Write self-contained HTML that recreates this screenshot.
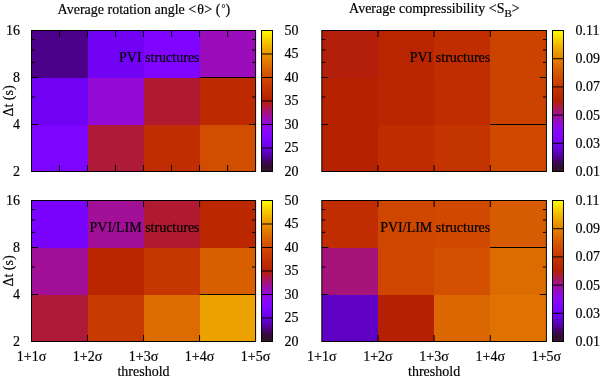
<!DOCTYPE html><html><head><meta charset="utf-8"><style>html,body{margin:0;padding:0;background:#fff;width:600px;height:379px;overflow:hidden}#w{width:600px;height:379px;will-change:transform}svg{display:block}text{font-family:"Liberation Serif",serif;font-size:14px;fill:#000;stroke:#000;stroke-width:0.18px}</style></head><body>
<div id="w"><svg width="600" height="379" viewBox="0 0 600 379">
<defs><linearGradient id="pg" x1="0" y1="0" x2="0" y2="1"><stop offset="0.000" stop-color="#ffff00"/><stop offset="0.025" stop-color="#fcec00"/><stop offset="0.050" stop-color="#f9db00"/><stop offset="0.075" stop-color="#f5ca00"/><stop offset="0.100" stop-color="#f2ba00"/><stop offset="0.125" stop-color="#efab00"/><stop offset="0.150" stop-color="#eb9d00"/><stop offset="0.175" stop-color="#e88f00"/><stop offset="0.200" stop-color="#e48300"/><stop offset="0.225" stop-color="#e07700"/><stop offset="0.250" stop-color="#dd6c00"/><stop offset="0.275" stop-color="#d96100"/><stop offset="0.300" stop-color="#d55700"/><stop offset="0.325" stop-color="#d24e00"/><stop offset="0.350" stop-color="#ce4600"/><stop offset="0.375" stop-color="#ca3e00"/><stop offset="0.400" stop-color="#c63700"/><stop offset="0.425" stop-color="#c13000"/><stop offset="0.450" stop-color="#bd2a00"/><stop offset="0.475" stop-color="#b92500"/><stop offset="0.500" stop-color="#b42000"/><stop offset="0.525" stop-color="#b01b28"/><stop offset="0.550" stop-color="#ab174f"/><stop offset="0.575" stop-color="#a61474"/><stop offset="0.600" stop-color="#a11096"/><stop offset="0.625" stop-color="#9c0db4"/><stop offset="0.650" stop-color="#970bce"/><stop offset="0.675" stop-color="#9109e3"/><stop offset="0.700" stop-color="#8c07f3"/><stop offset="0.725" stop-color="#8605fc"/><stop offset="0.750" stop-color="#8004ff"/><stop offset="0.775" stop-color="#7903fc"/><stop offset="0.800" stop-color="#7202f3"/><stop offset="0.825" stop-color="#6b01e3"/><stop offset="0.850" stop-color="#6301ce"/><stop offset="0.875" stop-color="#5a00b4"/><stop offset="0.900" stop-color="#510096"/><stop offset="0.925" stop-color="#420563"/><stop offset="0.950" stop-color="#360a40"/><stop offset="0.975" stop-color="#310f2e"/><stop offset="1.000" stop-color="#341430"/></linearGradient></defs>
<g><rect x="31.50" y="30.50" width="56.02" height="47.00" fill="#4c0089" shape-rendering="crispEdges"/><rect x="87.53" y="30.50" width="56.02" height="47.00" fill="#7202f3" shape-rendering="crispEdges"/><rect x="143.55" y="30.50" width="56.02" height="47.00" fill="#8004ff" shape-rendering="crispEdges"/><rect x="199.57" y="30.50" width="56.02" height="47.00" fill="#9b0dba" shape-rendering="crispEdges"/><rect x="31.50" y="77.50" width="56.02" height="47.00" fill="#7202f3" shape-rendering="crispEdges"/><rect x="87.53" y="77.50" width="56.02" height="47.00" fill="#950ad7" shape-rendering="crispEdges"/><rect x="143.55" y="77.50" width="56.02" height="47.00" fill="#af1a30" shape-rendering="crispEdges"/><rect x="199.57" y="77.50" width="56.02" height="47.00" fill="#bd2a00" shape-rendering="crispEdges"/><rect x="31.50" y="124.50" width="56.02" height="47.00" fill="#7d04fe" shape-rendering="crispEdges"/><rect x="87.53" y="124.50" width="56.02" height="47.00" fill="#ae1a38" shape-rendering="crispEdges"/><rect x="143.55" y="124.50" width="56.02" height="47.00" fill="#bf2d00" shape-rendering="crispEdges"/><rect x="199.57" y="124.50" width="56.02" height="47.00" fill="#d14d00" shape-rendering="crispEdges"/><line x1="199.57" y1="77.50" x2="255.60" y2="77.50" stroke="#000" stroke-width="1"/><path d="M59.51 30.50v6.5M59.51 171.50v-6.5M87.53 30.50v6.5M87.53 171.50v-6.5M115.54 30.50v6.5M115.54 171.50v-6.5M143.55 30.50v6.5M143.55 171.50v-6.5M171.56 30.50v6.5M171.56 171.50v-6.5M199.57 30.50v6.5M199.57 171.50v-6.5M227.59 30.50v6.5M227.59 171.50v-6.5M31.50 77.50h6.5M255.60 77.50h-6.5M31.50 124.50h6.5M255.60 124.50h-6.5M31.50 39.55h3.5M255.60 39.55h-3.5M31.50 50.01h3.5M255.60 50.01h-3.5M31.50 62.37h3.5M255.60 62.37h-3.5M31.50 97.01h3.5M255.60 97.01h-3.5" stroke="#000" stroke-width="1" fill="none"/><rect x="31.50" y="30.50" width="224.10" height="141.00" fill="none" stroke="#000" stroke-width="1"/><rect x="261.50" y="30.50" width="11.00" height="141.00" fill="url(#pg)"/><text x="284.60" y="34.90">50</text><text x="284.60" y="58.40">45</text><text x="284.60" y="81.90">40</text><text x="284.60" y="105.40">35</text><text x="284.60" y="128.90">30</text><text x="284.60" y="152.40">25</text><text x="284.60" y="175.90">20</text><path d="M261.50 54.00H272.50M261.50 77.50H272.50M261.50 101.00H272.50M261.50 124.50H272.50M261.50 148.00H272.50" stroke="#000" stroke-width="1" fill="none"/><rect x="261.50" y="30.50" width="11.00" height="141.00" fill="none" stroke="#000" stroke-width="1"/><text x="20" y="34.80" text-anchor="end">16</text><text x="20" y="81.80" text-anchor="end">8</text><text x="20" y="128.80" text-anchor="end">4</text><text x="20" y="175.80" text-anchor="end">2</text><text transform="translate(12.9 101.00) rotate(-90)" text-anchor="middle">&#916;t (s)</text><text x="199.57" y="61.70" text-anchor="end">PVI structures</text></g>
<g><rect x="321.80" y="30.50" width="56.15" height="47.00" fill="#b31f0b" shape-rendering="crispEdges"/><rect x="377.95" y="30.50" width="56.15" height="47.00" fill="#b92500" shape-rendering="crispEdges"/><rect x="434.10" y="30.50" width="56.15" height="47.00" fill="#bf2d00" shape-rendering="crispEdges"/><rect x="490.25" y="30.50" width="56.15" height="47.00" fill="#cc4300" shape-rendering="crispEdges"/><rect x="321.80" y="77.50" width="56.15" height="47.00" fill="#b62200" shape-rendering="crispEdges"/><rect x="377.95" y="77.50" width="56.15" height="47.00" fill="#ba2600" shape-rendering="crispEdges"/><rect x="434.10" y="77.50" width="56.15" height="47.00" fill="#bf2d00" shape-rendering="crispEdges"/><rect x="490.25" y="77.50" width="56.15" height="47.00" fill="#cc4300" shape-rendering="crispEdges"/><rect x="321.80" y="124.50" width="56.15" height="47.00" fill="#b62200" shape-rendering="crispEdges"/><rect x="377.95" y="124.50" width="56.15" height="47.00" fill="#be2c00" shape-rendering="crispEdges"/><rect x="434.10" y="124.50" width="56.15" height="47.00" fill="#c43400" shape-rendering="crispEdges"/><rect x="490.25" y="124.50" width="56.15" height="47.00" fill="#cf4900" shape-rendering="crispEdges"/><line x1="490.25" y1="124.50" x2="546.40" y2="124.50" stroke="#000" stroke-width="1"/><path d="M377.95 30.50v6.5M377.95 171.50v-6.5M434.10 30.50v6.5M434.10 171.50v-6.5M490.25 30.50v6.5M490.25 171.50v-6.5M321.80 77.50h6.5M546.40 77.50h-6.5M321.80 124.50h6.5M546.40 124.50h-6.5M321.80 39.55h3.5M546.40 39.55h-3.5M321.80 50.01h3.5M546.40 50.01h-3.5M321.80 62.37h3.5M546.40 62.37h-3.5M321.80 97.01h3.5M546.40 97.01h-3.5" stroke="#000" stroke-width="1" fill="none"/><rect x="321.80" y="30.50" width="224.60" height="141.00" fill="none" stroke="#000" stroke-width="1"/><rect x="552.50" y="30.50" width="11.00" height="141.00" fill="url(#pg)"/><text x="575.60" y="34.90">0.11</text><text x="575.60" y="63.10">0.09</text><text x="575.60" y="91.30">0.07</text><text x="575.60" y="119.50">0.05</text><text x="575.60" y="147.70">0.03</text><text x="575.60" y="175.90">0.01</text><path d="M552.50 58.70H563.50M552.50 86.90H563.50M552.50 115.10H563.50M552.50 143.30H563.50" stroke="#000" stroke-width="1" fill="none"/><rect x="552.50" y="30.50" width="11.00" height="141.00" fill="none" stroke="#000" stroke-width="1"/><text x="490.25" y="61.70" text-anchor="end">PVI structures</text></g>
<g><rect x="31.50" y="200.50" width="56.02" height="47.00" fill="#7a03fd" shape-rendering="crispEdges"/><rect x="87.53" y="200.50" width="56.02" height="47.00" fill="#a11096" shape-rendering="crispEdges"/><rect x="143.55" y="200.50" width="56.02" height="47.00" fill="#af1a30" shape-rendering="crispEdges"/><rect x="199.57" y="200.50" width="56.02" height="47.00" fill="#bb2800" shape-rendering="crispEdges"/><rect x="31.50" y="247.50" width="56.02" height="47.00" fill="#a11096" shape-rendering="crispEdges"/><rect x="87.53" y="247.50" width="56.02" height="47.00" fill="#ba2600" shape-rendering="crispEdges"/><rect x="143.55" y="247.50" width="56.02" height="47.00" fill="#c63700" shape-rendering="crispEdges"/><rect x="199.57" y="247.50" width="56.02" height="47.00" fill="#d85f00" shape-rendering="crispEdges"/><rect x="31.50" y="294.50" width="56.02" height="47.00" fill="#ae1a38" shape-rendering="crispEdges"/><rect x="87.53" y="294.50" width="56.02" height="47.00" fill="#c73a00" shape-rendering="crispEdges"/><rect x="143.55" y="294.50" width="56.02" height="47.00" fill="#dd6c00" shape-rendering="crispEdges"/><rect x="199.57" y="294.50" width="56.02" height="47.00" fill="#eca200" shape-rendering="crispEdges"/><line x1="199.57" y1="294.50" x2="255.60" y2="294.50" stroke="#000" stroke-width="1"/><path d="M87.53 200.50v6.5M87.53 341.50v-6.5M143.55 200.50v6.5M143.55 341.50v-6.5M199.57 200.50v6.5M199.57 341.50v-6.5M31.50 247.50h6.5M255.60 247.50h-6.5M31.50 294.50h6.5M255.60 294.50h-6.5M31.50 209.55h3.5M255.60 209.55h-3.5M31.50 220.01h3.5M255.60 220.01h-3.5M31.50 232.37h3.5M255.60 232.37h-3.5M31.50 267.01h3.5M255.60 267.01h-3.5" stroke="#000" stroke-width="1" fill="none"/><rect x="31.50" y="200.50" width="224.10" height="141.00" fill="none" stroke="#000" stroke-width="1"/><rect x="261.50" y="200.50" width="11.00" height="141.00" fill="url(#pg)"/><text x="284.60" y="204.90">50</text><text x="284.60" y="228.40">45</text><text x="284.60" y="251.90">40</text><text x="284.60" y="275.40">35</text><text x="284.60" y="298.90">30</text><text x="284.60" y="322.40">25</text><text x="284.60" y="345.90">20</text><path d="M261.50 224.00H272.50M261.50 247.50H272.50M261.50 271.00H272.50M261.50 294.50H272.50M261.50 318.00H272.50" stroke="#000" stroke-width="1" fill="none"/><rect x="261.50" y="200.50" width="11.00" height="141.00" fill="none" stroke="#000" stroke-width="1"/><text x="20" y="204.80" text-anchor="end">16</text><text x="20" y="251.80" text-anchor="end">8</text><text x="20" y="298.80" text-anchor="end">4</text><text x="20" y="345.80" text-anchor="end">2</text><text transform="translate(12.9 271.00) rotate(-90)" text-anchor="middle">&#916;t (s)</text><text x="199.57" y="231.70" text-anchor="end">PVI/LIM structures</text></g>
<g><rect x="321.80" y="200.50" width="56.15" height="47.00" fill="#bf2d00" shape-rendering="crispEdges"/><rect x="377.95" y="200.50" width="56.15" height="47.00" fill="#ce4600" shape-rendering="crispEdges"/><rect x="434.10" y="200.50" width="56.15" height="47.00" fill="#cf4900" shape-rendering="crispEdges"/><rect x="490.25" y="200.50" width="56.15" height="47.00" fill="#d75b00" shape-rendering="crispEdges"/><rect x="321.80" y="247.50" width="56.15" height="47.00" fill="#a5137b" shape-rendering="crispEdges"/><rect x="377.95" y="247.50" width="56.15" height="47.00" fill="#ce4600" shape-rendering="crispEdges"/><rect x="434.10" y="247.50" width="56.15" height="47.00" fill="#d25000" shape-rendering="crispEdges"/><rect x="490.25" y="247.50" width="56.15" height="47.00" fill="#dd6c00" shape-rendering="crispEdges"/><rect x="321.80" y="294.50" width="56.15" height="47.00" fill="#5f01c4" shape-rendering="crispEdges"/><rect x="377.95" y="294.50" width="56.15" height="47.00" fill="#b42000" shape-rendering="crispEdges"/><rect x="434.10" y="294.50" width="56.15" height="47.00" fill="#db6700" shape-rendering="crispEdges"/><rect x="490.25" y="294.50" width="56.15" height="47.00" fill="#df7200" shape-rendering="crispEdges"/><line x1="490.25" y1="247.50" x2="546.40" y2="247.50" stroke="#000" stroke-width="1"/><path d="M377.95 200.50v6.5M377.95 341.50v-6.5M434.10 200.50v6.5M434.10 341.50v-6.5M490.25 200.50v6.5M490.25 341.50v-6.5M321.80 247.50h6.5M546.40 247.50h-6.5M321.80 294.50h6.5M546.40 294.50h-6.5M321.80 209.55h3.5M546.40 209.55h-3.5M321.80 220.01h3.5M546.40 220.01h-3.5M321.80 232.37h3.5M546.40 232.37h-3.5M321.80 267.01h3.5M546.40 267.01h-3.5" stroke="#000" stroke-width="1" fill="none"/><rect x="321.80" y="200.50" width="224.60" height="141.00" fill="none" stroke="#000" stroke-width="1"/><rect x="552.50" y="200.50" width="11.00" height="141.00" fill="url(#pg)"/><text x="575.60" y="204.90">0.11</text><text x="575.60" y="233.10">0.09</text><text x="575.60" y="261.30">0.07</text><text x="575.60" y="289.50">0.05</text><text x="575.60" y="317.70">0.03</text><text x="575.60" y="345.90">0.01</text><path d="M552.50 228.70H563.50M552.50 256.90H563.50M552.50 285.10H563.50M552.50 313.30H563.50" stroke="#000" stroke-width="1" fill="none"/><rect x="552.50" y="200.50" width="11.00" height="141.00" fill="none" stroke="#000" stroke-width="1"/><text x="490.25" y="231.70" text-anchor="end">PVI/LIM structures</text></g>
<text x="57.6" y="13.7">Average rotation angle &lt;<tspan dx="1">&#952;</tspan><tspan dx="0.4">&gt;</tspan> <tspan dx="0.1">(</tspan><tspan dx="0.9" font-size="9.5" dy="-1.6">&#176;</tspan><tspan dx="0.2" dy="1.6">)</tspan></text>
<text x="434.4" y="12.5" text-anchor="middle">Average compressibility &lt;S<tspan font-size="11" dy="4.2">B</tspan><tspan dy="-4.2">&gt;</tspan></text>
<text x="31.50" y="360.6" text-anchor="middle">1+1&#963;</text>
<text x="87.53" y="360.6" text-anchor="middle">1+2&#963;</text>
<text x="143.55" y="360.6" text-anchor="middle">1+3&#963;</text>
<text x="199.57" y="360.6" text-anchor="middle">1+4&#963;</text>
<text x="255.60" y="360.6" text-anchor="middle">1+5&#963;</text>
<text x="143.55" y="375.8" text-anchor="middle">threshold</text>
<text x="321.80" y="360.6" text-anchor="middle">1+1&#963;</text>
<text x="377.95" y="360.6" text-anchor="middle">1+2&#963;</text>
<text x="434.10" y="360.6" text-anchor="middle">1+3&#963;</text>
<text x="490.25" y="360.6" text-anchor="middle">1+4&#963;</text>
<text x="546.40" y="360.6" text-anchor="middle">1+5&#963;</text>
<text x="434.10" y="375.8" text-anchor="middle">threshold</text>
</svg></div></body></html>
